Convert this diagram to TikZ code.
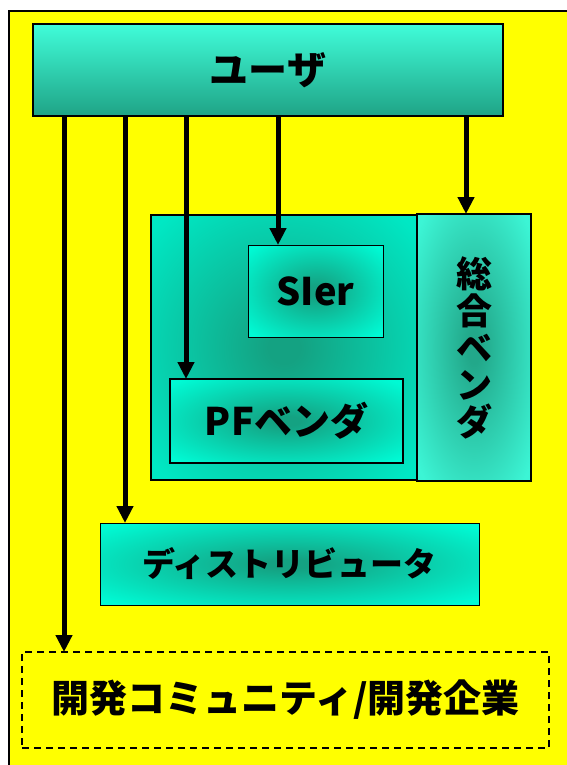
\documentclass[tikz,border=0pt]{standalone}
\usepackage{fontspec}
\newfontfamily\jp{Noto Sans CJK JP}
\usetikzlibrary{arrows.meta}
\definecolor{yel}{HTML}{FFFF00}
\definecolor{tqtop}{HTML}{40FDD9}
\definecolor{tqbot}{HTML}{1FA386}
\definecolor{tqedge}{HTML}{00E8C4}
\definecolor{tqdark}{HTML}{14A282}
\definecolor{tqmid}{HTML}{22A88A}
\definecolor{tqlight}{HTML}{3CF5D5}
\definecolor{tqbright}{HTML}{00FAD4}
\newcommand\myradshade[3]{\pgfdeclareradialshading[#2,#3]{#1}{\pgfpointorigin}{color(0bp)=(#2);color(3bp)=(#2);color(33bp)=(#3);color(50bp)=(#3)}}
\myradshade{radgrp}{tqdark}{tqedge}
\myradshade{radbox}{tqdark}{tqbright}
\myradshade{radsogo}{tqmid}{tqlight}
\tikzset{
  box/.style={draw=black, inner sep=0pt, outer sep=0pt, font=\jp\bfseries, align=center},
  arr/.style={line width=5pt, -{Triangle[width=16pt,length=17pt]}},
}
\begin{document}
\begin{tikzpicture}[x=1pt,y=-1pt]
\useasboundingbox (0,0) rectangle (567,765);
\fill[white] (0,0) rectangle (567,765);
\draw[fill=yel, line width=2pt] (9,11) rectangle (600,800);
% user
\node[box, line width=2.5pt, top color=tqtop, bottom color=tqbot,
      minimum width=470pt, minimum height=92pt, font=\jp\bfseries\fontsize{39}{39}\selectfont]
      (user) at (268,70) {ユーザ};
% group
\node[box, line width=2pt, shade, shading=radgrp,
      minimum width=267pt, minimum height=265pt] (grp) at (284,347.5) {};
\node[box, line width=1pt, shade, shading=radbox,
      minimum width=135pt, minimum height=92pt, font=\jp\bfseries\fontsize{38}{38}\selectfont]
      (sier) at (315.5,291) {SIer};
\node[box, line width=2pt, shade, shading=radbox,
      minimum width=233pt, minimum height=84pt, font=\jp\bfseries\fontsize{38}{38}\selectfont]
      (pf) at (286.5,421) {PFベンダ};
\node[box, line width=2pt, shade, shading=radsogo,
      minimum width=114pt, minimum height=267pt, font=\jp\bfseries\fontsize{36}{37}\selectfont]
      (sogo) at (474,347.5) {総\\合\\ベ\\ン\\ダ};
% distributor
\node[box, line width=1pt, shade, shading=radbox,
      minimum width=379pt, minimum height=82pt, font=\jp\bfseries\fontsize{33}{33}\selectfont]
      (dist) at (289.5,564) {ディストリビュータ};
% developers
\node[box, line width=1.5pt, dash pattern=on 7pt off 5pt,
      minimum width=527pt, minimum height=96pt, font=\jp\bfseries\fontsize{38}{38}\selectfont]
      (dev) at (285.5,700) {開発コミュニティ/開発企業};
% arrows
\coordinate (a1) at (64,0);
\coordinate (a2) at (125,0);
\coordinate (a3) at (186,0);
\coordinate (a4) at (278,0);
\coordinate (a5) at (466,0);
\draw[arr] (user.south -| a1) -- (dev.north -| a1);
\draw[arr] (user.south -| a2) -- (dist.north -| a2);
\draw[arr] (user.south -| a3) -- (pf.north -| a3);
\draw[arr] (user.south -| a4) -- (sier.north -| a4);
\draw[arr] (user.south -| a5) -- (sogo.north -| a5);
\end{tikzpicture}
\end{document}
